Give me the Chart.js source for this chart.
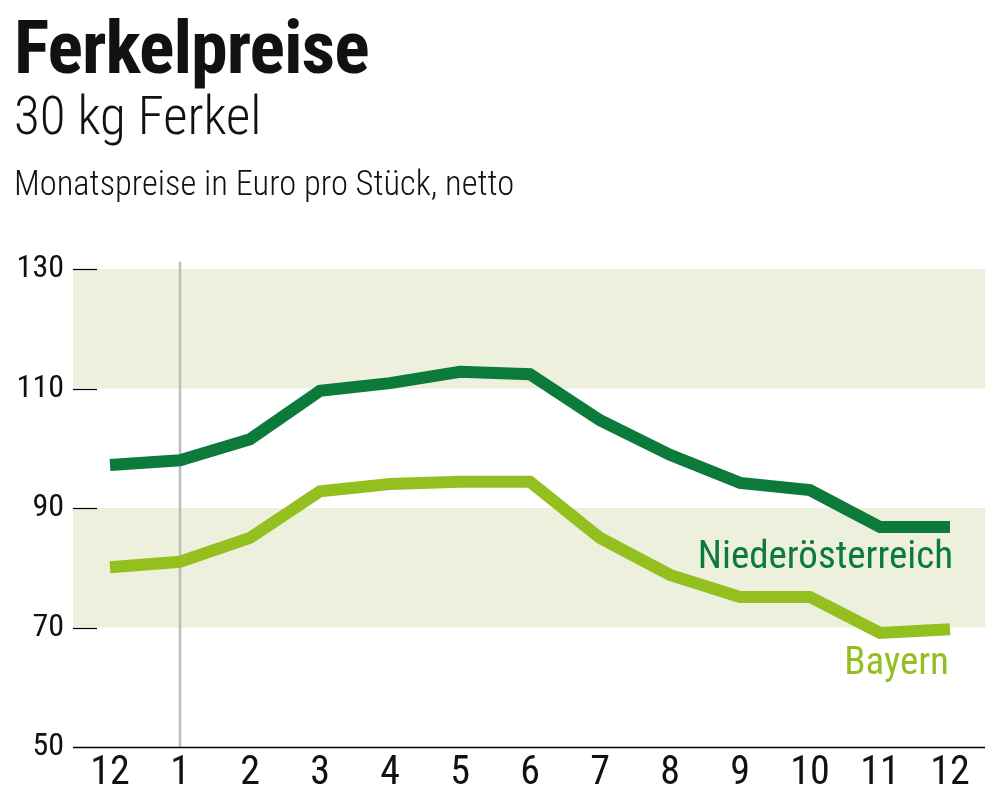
<!DOCTYPE html>
<html>
<head>
<meta charset="utf-8">
<script src="https://cdn.jsdelivr.net/npm/chart.js@4.4.1/dist/chart.umd.min.js"></script>
<style>
  html, body { margin: 0; padding: 0; background: #fff; }
  #wrap { position: relative; width: 999px; height: 811px; overflow: hidden; }
  #c { position: absolute; left: 0; top: 0; }
  .t { position: absolute; left: 14px; white-space: nowrap; color: #111; font-family: "Liberation Sans Narrow", "Roboto Condensed", "Open Sans", sans-serif; }
  #title { top: 4px; font-size: 74px; font-weight: bold; letter-spacing: -1px; }
  #sub { top: 85px; font-size: 53px; font-weight: 300; }
  #note { top: 163px; font-size: 34.5px; font-weight: 300; }
</style>
</head>
<body>
<div id="wrap">
  <canvas id="c" width="999" height="811"></canvas>
  <div class="t" id="title">Ferkelpreise</div>
  <div class="t" id="sub">30 kg Ferkel</div>
  <div class="t" id="note">Monatspreise in Euro pro Stück, netto</div>
</div>
<script>
const months = ["12", "1", "2", "3", "4", "5", "6", "7", "8", "9", "10", "11", "12"];
const niederoesterreich = [97.2, 98.0, 101.5, 109.6, 110.9, 112.8, 112.4, 104.7, 98.9, 94.2, 93.0, 86.8, 86.8];
const bayern = [80.1, 81.0, 85.0, 92.8, 94.0, 94.4, 94.4, 85.0, 78.8, 75.1, 75.1, 69.1, 69.7];
const yTicks = [50, 70, 90, 110, 130];
const bands = [[70, 90], [110, 130]];
const dividerIndex = 1;

const DARK = "#0b7a3b";
const LIGHT = "#93c01f";
const BAND = "#ecf0dc";
const FONT = '"Liberation Sans Narrow", "Roboto Condensed", "Open Sans", sans-serif';

const decor = {
  id: "decor",
  beforeDatasetsDraw(chart) {
    const { ctx, chartArea: a, scales: { x, y } } = chart;
    ctx.save();
    ctx.fillStyle = BAND;
    bands.forEach(([lo, hi]) => {
      const y1 = y.getPixelForValue(hi), y2 = y.getPixelForValue(lo);
      ctx.fillRect(a.left - 2, y1, a.right - a.left + 2, y2 - y1);
    });
    ctx.strokeStyle = "#000";
    ctx.lineWidth = 1.2;
    yTicks.forEach(v => {
      if (v === yTicks[0]) return;
      const py = Math.round(y.getPixelForValue(v)) + 0.5;
      ctx.beginPath();
      ctx.moveTo(a.left - 2, py);
      ctx.lineTo(a.left + 22, py);
      ctx.stroke();
    });
    const px = x.getPixelForValue(dividerIndex);
    ctx.strokeStyle = "#bdbdbd";
    ctx.lineWidth = 2.5;
    ctx.beginPath();
    ctx.moveTo(px, y.getPixelForValue(131.2));
    ctx.lineTo(px, a.bottom);
    ctx.stroke();
    ctx.strokeStyle = "#000";
    ctx.lineWidth = 1.5;
    ctx.beginPath();
    ctx.moveTo(a.left - 2, a.bottom + 0.5);
    ctx.lineTo(a.right, a.bottom + 0.5);
    ctx.stroke();
    ctx.restore();
  },
  afterDatasetsDraw(chart) {
    const { ctx } = chart;
    ctx.save();
    ctx.textAlign = "right";
    ctx.textBaseline = "alphabetic";
    ctx.font = "39px " + FONT;
    const offs = [41, 45];
    const dx = [3, -1];
    chart.data.datasets.forEach((ds, i) => {
      const meta = chart.getDatasetMeta(i);
      const last = meta.data[meta.data.length - 1];
      ctx.fillStyle = ds.borderColor;
      ctx.fillText(ds.label, last.x + dx[i], last.y + offs[i]);
    });
    ctx.restore();
  }
};

new Chart(document.getElementById("c"), {
  type: "line",
  data: {
    labels: months,
    datasets: [
      { label: "Niederösterreich", data: niederoesterreich, borderColor: DARK, borderWidth: 12, pointRadius: 0, tension: 0, borderJoinStyle: "miter", borderCapStyle: "butt" },
      { label: "Bayern", data: bayern, borderColor: LIGHT, borderWidth: 12, pointRadius: 0, tension: 0, borderJoinStyle: "miter", borderCapStyle: "butt" }
    ]
  },
  options: {
    responsive: false,
    animation: false,
    layout: { padding: { top: 269, right: 14, left: 0, bottom: 0 } },
    plugins: { legend: { display: false }, tooltip: { enabled: false } },
    scales: {
      x: {
        offset: true,
        grid: { display: false, drawTicks: false },
        border: { display: false },
        ticks: { color: "#111", font: { family: FONT, size: 40 }, padding: 3, maxRotation: 0, autoSkip: false },
        afterFit(s) { s.height = 64; }
      },
      y: {
        min: 50, max: 130,
        afterBuildTicks(s) { s.ticks = yTicks.map(v => ({ value: v })); },
        grid: { display: false, drawTicks: false },
        border: { display: false },
        ticks: { color: "#111", font: { family: FONT, size: 32 }, padding: 11 },
        afterFit(s) { s.width = 75; }
      }
    }
  },
  plugins: [decor]
});
</script>
</body>
</html>
